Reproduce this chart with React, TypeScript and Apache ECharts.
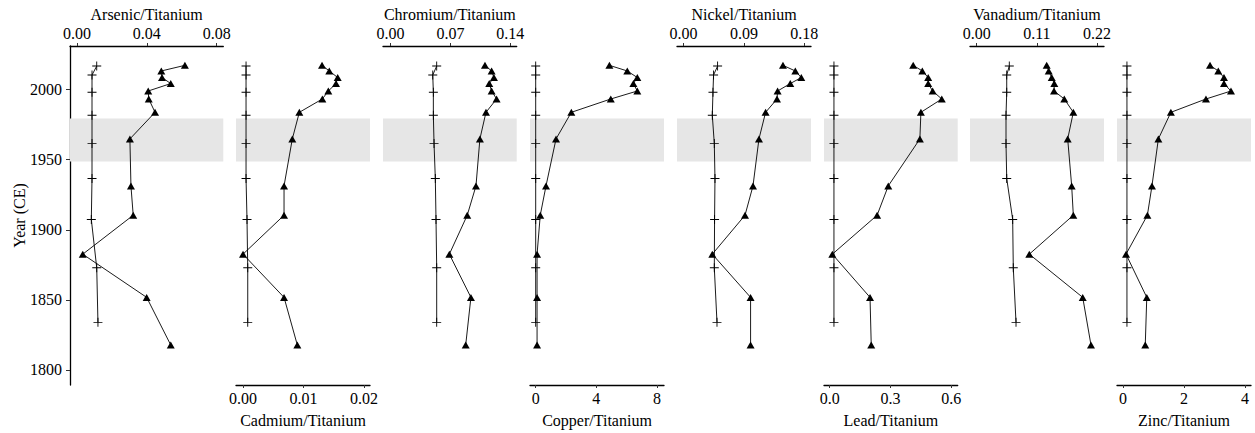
import React, { useEffect, useRef } from "react";
import * as echarts from "echarts";

// ---- Data ----
const triangleYears = [2017.3, 2013.3, 2008.6, 2004.3, 1999.0, 1993.3, 1983.8, 1964.8, 1931.3, 1910.4, 1882.6, 1851.8, 1817.8];
const crossYears = [2016.8, 2010.4, 1998.1, 1981.7, 1961.5, 1936.6, 1907.4, 1872.9, 1834.0];

const elementNames = ["Arsenic", "Cadmium", "Chromium", "Copper", "Nickel", "Lead", "Vanadium", "Zinc"];

const arsenicTri = [0.0618, 0.0483, 0.0487, 0.0537, 0.0408, 0.0411, 0.0447, 0.0303, 0.0309, 0.0322, 0.0033, 0.0399, 0.0537];
const arsenicCross = [0.0113, 0.0086, 0.0086, 0.0086, 0.0086, 0.0086, 0.0082, 0.0113, 0.012];

const cadmiumTri = [0.01306, 0.01426, 0.01565, 0.01537, 0.0141, 0.01311, 0.00931, 0.00815, 0.00678, 0.00678, 0.0, 0.00678, 0.00898];
const cadmiumCross = [0.0005, 0.0005, 0.0005, 0.0005, 0.0005, 0.0005, 0.00066, 0.00078, 0.00078];

const chromiumTri = [0.1104, 0.1182, 0.1209, 0.1154, 0.1182, 0.124, 0.1116, 0.1045, 0.0999, 0.0897, 0.0688, 0.094, 0.0879];
const chromiumCross = [0.054, 0.0494, 0.0501, 0.0501, 0.0509, 0.0524, 0.0532, 0.054, 0.054];

const copperTri = [4.86, 6.04, 6.7, 6.44, 6.7, 4.95, 2.35, 1.34, 0.68, 0.3, 0.09, 0.09, 0.09];
const copperCross = [0.0, 0.0, 0.0, 0.0, 0.0, 0.0, 0.0, 0.0, 0.0];

const nickelTri = [0.1482, 0.1666, 0.1755, 0.1591, 0.1402, 0.1393, 0.1223, 0.1124, 0.1035, 0.0916, 0.0428, 0.0999, 0.0999];
const nickelCross = [0.0507, 0.0447, 0.0438, 0.0428, 0.0458, 0.0468, 0.0462, 0.0458, 0.0498];

const leadTri = [0.412, 0.457, 0.486, 0.486, 0.508, 0.553, 0.45, 0.445, 0.289, 0.234, 0.013, 0.199, 0.205];
const leadCross = [0.021, 0.021, 0.021, 0.021, 0.021, 0.021, 0.021, 0.021, 0.021];

const vanadiumTri = [0.128, 0.1317, 0.1372, 0.1419, 0.1414, 0.1602, 0.1767, 0.1664, 0.1737, 0.1767, 0.0962, 0.1939, 0.209];
const vanadiumCross = [0.0596, 0.0549, 0.0549, 0.0536, 0.0536, 0.0549, 0.0658, 0.0669, 0.0719];

const zincTri = [2.853, 3.124, 3.31, 3.31, 3.54, 2.72, 1.57, 1.16, 0.95, 0.8, 0.1, 0.78, 0.73];
const zincCross = [0.13, 0.13, 0.13, 0.13, 0.13, 0.13, 0.13, 0.13, 0.13];

const triValues = [arsenicTri, cadmiumTri, chromiumTri, copperTri, nickelTri, leadTri, vanadiumTri, zincTri];
const crossValues = [arsenicCross, cadmiumCross, chromiumCross, copperCross, nickelCross, leadCross, vanadiumCross, zincCross];

// axis ticks and ranges
const xTicks = [
  [0, 0.04, 0.08],
  [0, 0.01, 0.02],
  [0, 0.07, 0.14],
  [0, 4, 8],
  [0, 0.09, 0.18],
  [0, 0.3, 0.6],
  [0, 0.11, 0.22],
  [0, 2, 4],
];
const xDecimals = [2, 2, 2, 0, 2, 1, 2, 0];
const xMins = [-0.00401, -0.00116, -0.00875, -0.376, -0.00984, -0.0281, -0.01225, -0.196];
const xMaxs = [0.0838, 0.02099, 0.1475, 8.46, 0.19, 0.6316, 0.2328, 4.196];

const yearTicks = [1800, 1850, 1900, 1950, 2000];
const yearMin = 1789.3;
const yearMax = 2031.1;
const bandYears = [1948.8, 1979.3];

// ---- Layout ----
const panelLefts = [70, 236, 383, 530, 677, 824, 970, 1117];
const panelWidths = [153.3, 134, 133.7, 134, 134, 133.7, 134, 134];
const panelTop = 46;
const panelHeight = 339;
const FONT = "Liberation Serif";
const FS = 16;

const crossPath =
  "path://M-0.1,-1L0.1,-1L0.1,-0.1L1,-0.1L1,0.1L0.1,0.1L0.1,1L-0.1,1L-0.1,0.1L-1,0.1L-1,-0.1L-0.1,-0.1Z";

function buildOption() {
  const grid: any[] = [];
  const xAxis: any[] = [];
  const yAxis: any[] = [];
  const series: any[] = [];
  elementNames.forEach((el, i) => {
    const top = i % 2 === 0;
    grid.push({
      left: panelLefts[i],
      top: panelTop,
      width: panelWidths[i],
      height: panelHeight,
      containLabel: false,
      outerBoundsMode: "none",
    });
    xAxis.push({
      gridIndex: i,
      type: "value",
      position: top ? "top" : "bottom",
      min: xMins[i],
      max: xMaxs[i],
      name: el + "/Titanium",
      nameLocation: "middle",
      nameGap: top ? 24 : 27,
      nameMoveOverlap: false,
      nameTextStyle: { color: "#000", fontSize: FS, fontFamily: FONT },
      axisLine: { show: true, onZero: false, lineStyle: { color: "#000", width: 1.3 } },
      axisTick: {
        show: true,
        customValues: xTicks[i],
        length: 3,
        inside: false,
        lineStyle: { color: "#333", width: 1 },
      },
      axisLabel: {
        show: true,
        customValues: xTicks[i],
        formatter: (v: number) => v.toFixed(xDecimals[i]),
        color: "#000",
        fontSize: FS,
        fontFamily: FONT,
        margin: 5,
      },
      splitLine: { show: false },
    });
    yAxis.push({
      gridIndex: i,
      type: "value",
      min: yearMin,
      max: yearMax,
      show: i === 0,
      name: i === 0 ? "Year (CE)" : "",
      nameLocation: "middle",
      nameGap: 43,
      nameMoveOverlap: false,
      nameTextStyle: { color: "#000", fontSize: FS, fontFamily: FONT },
      axisLine: { show: true, onZero: false, lineStyle: { color: "#000", width: 1.3 } },
      axisTick: {
        show: true,
        customValues: yearTicks,
        length: 4,
        inside: false,
        lineStyle: { color: "#333", width: 1 },
      },
      axisLabel: {
        show: true,
        customValues: yearTicks,
        formatter: (v: number) => String(Math.round(v)),
        color: "#000",
        fontSize: FS,
        fontFamily: FONT,
        margin: 8,
      },
      splitLine: { show: false },
    });
    series.push({
      type: "line",
      xAxisIndex: i,
      yAxisIndex: i,
      data: crossYears.map((y, k) => [crossValues[i][k], y]),
      symbol: crossPath,
      symbolSize: 9,
      showSymbol: true,
      lineStyle: { color: "#000", width: 0.9 },
      itemStyle: { color: "#000" },
      z: 3,
      markArea: {
        silent: true,
        itemStyle: { color: "#e6e6e6" },
        data: [[{ yAxis: bandYears[1] }, { yAxis: bandYears[0] }]],
      },
    });
    series.push({
      type: "line",
      xAxisIndex: i,
      yAxisIndex: i,
      data: triangleYears.map((y, k) => [triValues[i][k], y]),
      symbol: "triangle",
      symbolSize: [8, 7],
      showSymbol: true,
      lineStyle: { color: "#000", width: 0.9 },
      itemStyle: { color: "#000" },
      z: 3,
    });
  });
  return {
    animation: false,
    backgroundColor: "#fff",
    textStyle: { fontFamily: FONT, fontSize: FS },
    grid,
    xAxis,
    yAxis,
    series,
  };
}

export default function App() {
  const ref = useRef<HTMLDivElement>(null);
  useEffect(() => {
    if (!ref.current) return;
    const chart = echarts.init(ref.current, undefined, { renderer: "svg" });
    chart.setOption(buildOption() as any);
    return () => chart.dispose();
  }, []);
  return (
    <div
      ref={ref}
      style={{ position: "fixed", left: 0, top: 0, width: 1255, height: 433, background: "#fff" }}
    />
  );
}
